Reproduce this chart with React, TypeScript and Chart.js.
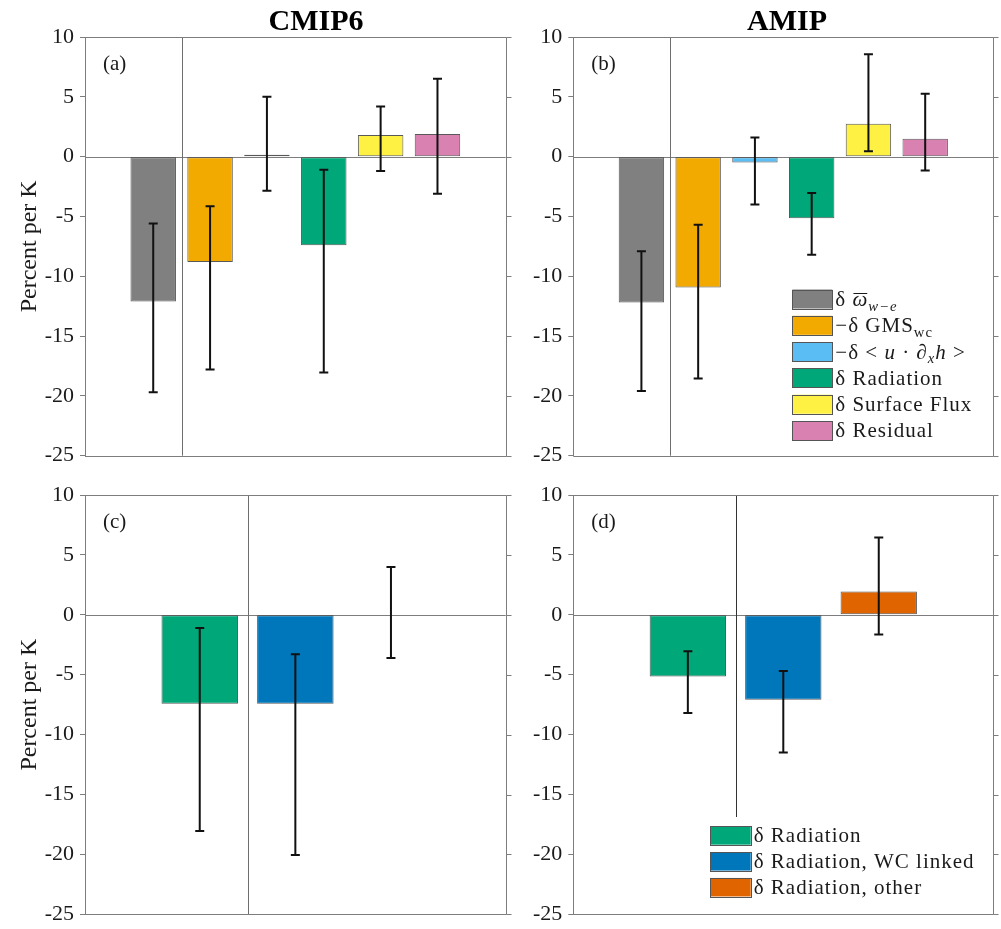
import React, { useEffect, useRef } from 'react';
import { Chart, registerables } from 'chart.js';

Chart.register(...registerables);

// ---------- data ----------
const TOP_LABELS = ['δ $\\bar{ω}_{w−e}$', '−δ GMS_{wc}', '−δ < $u$ · ∂_{$x$}$h$ >', 'δ Radiation', 'δ Surface Flux', 'δ Residual'];
const TOP_COLORS = ['#808080', '#F2AA00', '#5ABEF4', '#00A779', '#FFF143', '#D981B0'];

const BOTTOM_LABELS = ['δ Radiation', 'δ Radiation, WC linked', 'δ Radiation, other'];
const BOTTOM_COLORS = ['#00A779', '#0077BB', '#E06400'];

const CMIP6_VALUES = [-12.1, -8.8, 0.15, -7.4, 1.8, 1.9];
const CMIP6_ERR_LOW = [-19.7, -17.8, -2.85, -18.05, -1.2, -3.1];
const CMIP6_ERR_HIGH = [-5.6, -4.15, 5.0, -1.1, 4.2, 6.5];

const AMIP_VALUES = [-12.2, -10.95, -0.5, -5.15, 2.75, 1.5];
const AMIP_ERR_LOW = [-19.6, -18.55, -4.0, -8.2, 0.45, -1.15];
const AMIP_ERR_HIGH = [-7.9, -5.7, 1.6, -3.05, 8.55, 5.25];

const CMIP6_RAD_VALUES = [-7.42, -7.42, 0];
const CMIP6_RAD_ERR_LOW = [-18.05, -20.05, -3.6];
const CMIP6_RAD_ERR_HIGH = [-1.1, -3.3, 4.0];

const AMIP_RAD_VALUES = [-5.15, -7.1, 1.95];
const AMIP_RAD_ERR_LOW = [-8.2, -11.5, -1.65];
const AMIP_RAD_ERR_HIGH = [-3.05, -4.7, 6.45];

const Y_MIN = -25;
const Y_MAX = 10;
const Y_STEP = 5;
const Y_TITLE = 'Percent per K';
const TITLES = ['CMIP6', 'AMIP'];
const LETTERS = ['(a)', '(b)', '(c)', '(d)'];

// ---------- styles ----------
const SERIF = "'Liberation Serif', 'Times New Roman', serif";
const AXIS = '#7d7d7d';
const TEXT = '#1a1a1a';

type Run = { t: string; it: boolean; sub: boolean; over: boolean };

function parseRich(s: string): Run[] {
  const runs: Run[] = [];
  const stack: string[] = [];
  let it = false;
  let cur = '';
  const flush = () => {
    if (cur) {
      runs.push({ t: cur, it, sub: stack.includes('sub'), over: stack.includes('over') });
      cur = '';
    }
  };
  let i = 0;
  while (i < s.length) {
    if (s.startsWith('\\bar{', i)) { flush(); stack.push('over'); i += 5; continue; }
    if (s.startsWith('_{', i)) { flush(); stack.push('sub'); i += 2; continue; }
    if (s[i] === '}' && stack.length) { flush(); stack.pop(); i++; continue; }
    if (s[i] === '$') { flush(); it = !it; i++; continue; }
    cur += s[i];
    i++;
  }
  flush();
  return runs;
}

function drawRich(ctx: CanvasRenderingContext2D, text: string, x: number, yMid: number, size: number) {
  const runs = parseRich(text);
  const base = yMid + size * 0.33;
  let cx = x;
  ctx.save();
  ctx.fillStyle = TEXT;
  ctx.textAlign = 'left';
  ctx.textBaseline = 'alphabetic';
  try { (ctx as any).letterSpacing = '1px'; } catch (e) { /* ignore */ }
  for (const r of runs) {
    const fs = r.sub ? size * 0.7 : size;
    ctx.font = `${r.it ? 'italic ' : ''}${fs}px ${SERIF}`;
    const y = r.sub ? base + size * 0.22 : base;
    ctx.fillText(r.t, cx, y);
    const w = ctx.measureText(r.t).width;
    if (r.over) {
      ctx.strokeStyle = TEXT;
      ctx.lineWidth = 1;
      const oy = Math.round(base - size * 0.6) + 0.5;
      ctx.beginPath();
      ctx.moveTo(cx + 1, oy);
      ctx.lineTo(cx + w - 1, oy);
      ctx.stroke();
    }
    cx += w;
  }
  ctx.restore();
}

interface LegendCfg {
  labels: string[];
  colors: string[];
  fromRight: number;
  bottomOff: number;
  pitch: number;
  sw: number;
  sh: number;
  bg: null | { fromRight: number; fromBottom: number };
}

interface PanelCfg {
  left: number;
  top: number;
  width: number;
  height: number;
  padT: number;
  padR: number;
  padB: number;
  axisW: number;
  values: number[];
  lo: number[];
  hi: number[];
  colors: string[];
  yTitle: boolean;
  title: string | null;
  titleX: number;
  letter: string;
  vColor: string;
  legend: LegendCfg | null;
}

const PANELS: PanelCfg[] = [
  {
    left: 0, top: 0, width: 520, height: 475, padT: 37, padR: 14.3, padB: 19.3, axisW: 85,
    values: CMIP6_VALUES, lo: CMIP6_ERR_LOW, hi: CMIP6_ERR_HIGH, colors: TOP_COLORS,
    yTitle: true, title: TITLES[0], titleX: 316, letter: LETTERS[0], vColor: '#6e6e6e', legend: null,
  },
  {
    left: 520, top: 0, width: 481, height: 475, padT: 37, padR: 7.7, padB: 19.3, axisW: 53.3,
    values: AMIP_VALUES, lo: AMIP_ERR_LOW, hi: AMIP_ERR_HIGH, colors: TOP_COLORS,
    yTitle: false, title: TITLES[1], titleX: 267, letter: LETTERS[1], vColor: '#6e6e6e',
    legend: { labels: TOP_LABELS, colors: TOP_COLORS, fromRight: 201, bottomOff: 25.2, pitch: 26.3, sw: 40, sh: 19, bg: null },
  },
  {
    left: 0, top: 475, width: 520, height: 454, padT: 20, padR: 14.3, padB: 14.7, axisW: 85,
    values: CMIP6_RAD_VALUES, lo: CMIP6_RAD_ERR_LOW, hi: CMIP6_RAD_ERR_HIGH, colors: BOTTOM_COLORS,
    yTitle: true, title: null, titleX: 0, letter: LETTERS[2], vColor: '#6e6e6e', legend: null,
  },
  {
    left: 520, top: 475, width: 481, height: 454, padT: 20, padR: 7.7, padB: 14.7, axisW: 53.3,
    values: AMIP_RAD_VALUES, lo: AMIP_RAD_ERR_LOW, hi: AMIP_RAD_ERR_HIGH, colors: BOTTOM_COLORS,
    yTitle: false, title: null, titleX: 0, letter: LETTERS[3], vColor: '#333333',
    legend: { labels: BOTTOM_LABELS, colors: BOTTOM_COLORS, fromRight: 283.3, bottomOff: 27.1, pitch: 25.9, sw: 40.7, sh: 18.5, bg: { fromRight: 285.3, fromBottom: 97.3 } },
  },
];

const px = (v: number) => Math.round(v) + 0.5;

function makePlugin(cfg: PanelCfg) {
  return {
    id: 'panelDecor',
    beforeDatasetsDraw(chart: any) {
      const { ctx, chartArea: a, scales } = chart;
      const y0 = px(scales.y.getPixelForValue(0));
      const xv = px(scales.x.getPixelForValue(1.5));
      ctx.save();
      ctx.lineWidth = 1;
      ctx.strokeStyle = AXIS;
      ctx.beginPath();
      ctx.moveTo(a.left, y0);
      ctx.lineTo(a.right, y0);
      ctx.stroke();
      ctx.strokeStyle = cfg.vColor;
      ctx.beginPath();
      ctx.moveTo(xv, a.top);
      ctx.lineTo(xv, a.bottom);
      ctx.stroke();
      ctx.restore();
    },
    afterDatasetsDraw(chart: any) {
      const { ctx, scales } = chart;
      ctx.save();
      ctx.strokeStyle = '#111111';
      ctx.lineWidth = 2;
      for (let i = 0; i < cfg.values.length; i++) {
        const x = scales.x.getPixelForValue(i + 1);
        const yl = scales.y.getPixelForValue(cfg.lo[i]);
        const yh = scales.y.getPixelForValue(cfg.hi[i]);
        ctx.beginPath();
        ctx.moveTo(x, yl);
        ctx.lineTo(x, yh);
        ctx.moveTo(x - 4.5, yl);
        ctx.lineTo(x + 4.5, yl);
        ctx.moveTo(x - 4.5, yh);
        ctx.lineTo(x + 4.5, yh);
        ctx.stroke();
      }
      ctx.restore();
    },
    afterDraw(chart: any) {
      const { ctx, chartArea: a, scales } = chart;
      ctx.save();
      // legend
      const lg = cfg.legend;
      if (lg) {
        if (lg.bg) {
          ctx.fillStyle = '#ffffff';
          ctx.fillRect(a.right - lg.bg.fromRight, a.bottom - lg.bg.fromBottom, lg.bg.fromRight, lg.bg.fromBottom);
        }
        const n = lg.labels.length;
        const sx = a.right - lg.fromRight;
        for (let i = 0; i < n; i++) {
          const cy = a.bottom - lg.bottomOff - (n - 1 - i) * lg.pitch;
          ctx.fillStyle = lg.colors[i];
          ctx.fillRect(sx, cy - lg.sh / 2, lg.sw, lg.sh);
          ctx.strokeStyle = '#555555';
          ctx.lineWidth = 1;
          ctx.strokeRect(px(sx), px(cy - lg.sh / 2), Math.round(lg.sw), Math.round(lg.sh));
          drawRich(ctx, lg.labels[i], sx + lg.sw + 3, cy, 21);
        }
      }
      // box (top, right, bottom) with outward right ticks
      ctx.strokeStyle = AXIS;
      ctx.lineWidth = 1;
      const r = px(a.right);
      const t = px(a.top);
      const b = px(a.bottom);
      ctx.beginPath();
      ctx.moveTo(a.left, t);
      ctx.lineTo(r, t);
      ctx.lineTo(r, b);
      ctx.lineTo(a.left, b);
      for (let v = Y_MIN; v <= Y_MAX; v += Y_STEP) {
        const yy = px(scales.y.getPixelForValue(v));
        ctx.moveTo(r, yy);
        ctx.lineTo(r + 5, yy);
      }
      ctx.stroke();
      // panel letter
      ctx.fillStyle = TEXT;
      ctx.font = `21px ${SERIF}`;
      ctx.textAlign = 'left';
      ctx.textBaseline = 'middle';
      ctx.fillText(cfg.letter, a.left + 18, a.top + 27.5);
      // title
      if (cfg.title) {
        ctx.font = `bold 30px ${SERIF}`;
        ctx.textAlign = 'center';
        ctx.textBaseline = 'middle';
        ctx.fillStyle = '#000000';
        ctx.fillText(cfg.title, cfg.titleX, 22);
      }
      ctx.restore();
    },
  };
}

function Panel({ cfg }: { cfg: PanelCfg }) {
  const ref = useRef<HTMLCanvasElement | null>(null);
  useEffect(() => {
    if (!ref.current) return;
    const n = cfg.values.length;
    const chart = new Chart(ref.current, {
      type: 'bar',
      data: {
        datasets: [
          {
            data: cfg.values.map((v, i) => ({ x: i + 1, y: v })),
            backgroundColor: cfg.colors.slice(0, n),
            borderColor: 'rgba(60,60,60,0.85)',
            borderWidth: 1,
            borderSkipped: false,
            categoryPercentage: 1,
            barPercentage: 0.8,
          } as any,
        ],
      },
      options: {
        animation: false,
        responsive: false,
        devicePixelRatio: 1,
        layout: { padding: { left: 0, top: cfg.padT, right: cfg.padR, bottom: cfg.padB } },
        plugins: { legend: { display: false }, tooltip: { enabled: false }, title: { display: false } },
        scales: {
          x: {
            type: 'linear',
            min: -0.2,
            max: n + 1.2,
            offset: false,
            display: false,
            ticks: { stepSize: 1, includeBounds: false },
            grid: { offset: false },
          },
          y: {
            type: 'linear',
            min: Y_MIN,
            max: Y_MAX,
            ticks: {
              stepSize: Y_STEP,
              font: { family: SERIF, size: 22, lineHeight: 0.7 },
              color: TEXT,
              padding: 6,
              callback: (v: any) => String(v),
            },
            grid: { drawOnChartArea: false, drawTicks: true, tickLength: 5, color: AXIS, lineWidth: 1 },
            border: { display: true, color: AXIS, width: 1 },
            title: {
              display: cfg.yTitle,
              text: Y_TITLE,
              font: { family: SERIF, size: 24 },
              color: TEXT,
              padding: { top: 15, bottom: 0 },
            },
            afterFit: (s: any) => {
              s.width = cfg.axisW;
            },
          },
        },
      } as any,
      plugins: [makePlugin(cfg)],
    });
    return () => chart.destroy();
  }, [cfg]);
  return (
    <canvas
      ref={ref}
      width={cfg.width}
      height={cfg.height}
      style={{ position: 'absolute', left: cfg.left, top: cfg.top, width: cfg.width, height: cfg.height }}
    />
  );
}

export default function App() {
  return (
    <div style={{ position: 'absolute', left: 0, top: 0, width: 1001, height: 929, background: '#ffffff' }}>
      {PANELS.map((p, i) => (
        <Panel key={i} cfg={p} />
      ))}
    </div>
  );
}
